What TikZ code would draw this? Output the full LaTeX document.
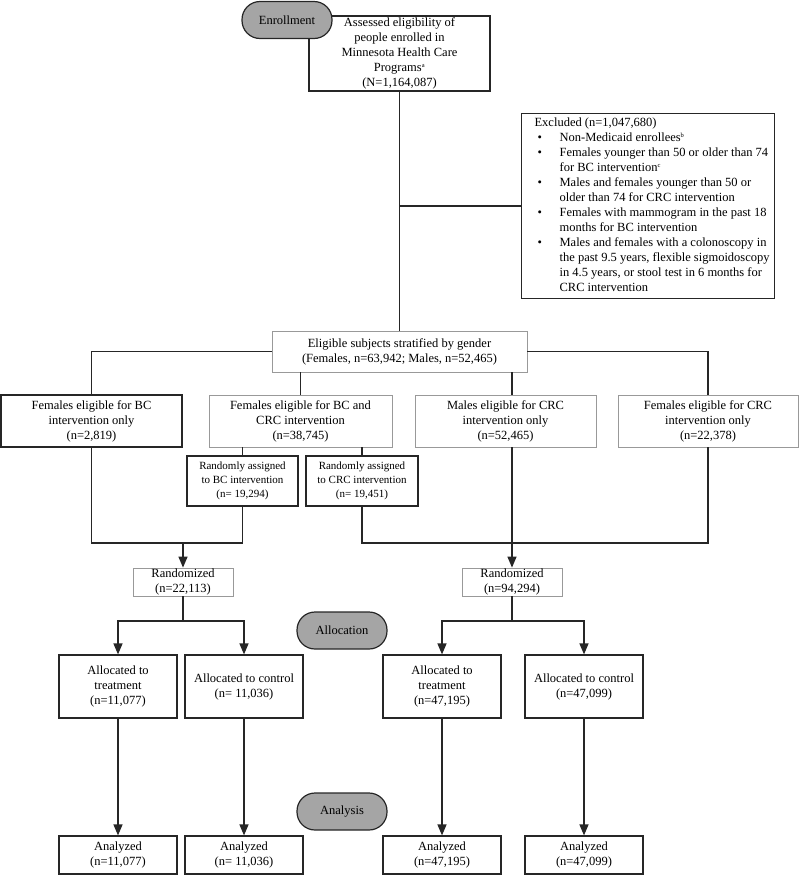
\documentclass[tikz,border=0pt]{standalone}
\usepackage{fontspec}
\setmainfont{Liberation Serif}
\usetikzlibrary{arrows.meta}
\definecolor{pillgray}{rgb}{0.647, 0.647, 0.647}
\definecolor{edgegray}{rgb}{0.6, 0.6, 0.6}
\definecolor{inkdark}{rgb}{0.15, 0.15, 0.15}
\newcommand{\supnote}[1]{\textsuperscript{\fontsize{6.5}{6.5}\selectfont #1}}

\begin{document}
\begin{tikzpicture}[x=1pt, y=-1pt,
    font=\fontsize{12.5}{15}\selectfont,
    darkbox/.style={draw=inkdark, line width=1.2pt, align=center, inner sep=0pt},
    lightbox/.style={draw=edgegray, line width=0.8pt, align=center, inner sep=0pt},
    stage/.style={draw=inkdark, fill=pillgray, line width=1.2pt, rounded corners=18pt,
        minimum width=90pt, minimum height=37pt, inner sep=0pt},
    link/.style={draw=inkdark, line width=1.4pt},
    flow/.style={link, -{Triangle[length=11pt, width=9pt]}}]
        \useasboundingbox (0,0) rectangle (800,876);
        % enrollment
        \node[darkbox, minimum width=181pt, minimum height=75pt] (2) at (399.5,53.5)
            {Assessed eligibility of\\people enrolled in\\Minnesota Health Care\\Programs\supnote{a}\\(N=1,164,087)};
        \node[stage] (1) at (287,20) {Enrollment};
        \node[darkbox, anchor=north west, minimum height=185pt] (3) at (521,113) {%
            \begin{tabular}{@{\hspace{13pt}}p{25pt}@{}p{215pt}@{}}
            \multicolumn{2}{@{\hspace{13pt}}l@{}}{Excluded (n=1,047,680)}\\
            \hspace{3pt}\textbullet & Non-Medicaid enrollees\supnote{b}\\
            \hspace{3pt}\textbullet & Females younger than 50 or older than 74\newline for BC intervention\supnote{c}\\
            \hspace{3pt}\textbullet & Males and females younger than 50 or\newline older than 74 for CRC intervention\\
            \hspace{3pt}\textbullet & Females with mammogram in the past 18\newline months for BC intervention\\
            \hspace{3pt}\textbullet & Males and females with a colonoscopy in\newline the past 9.5 years, flexible sigmoidoscopy\newline in 4.5 years, or stool test in 6 months for\newline CRC intervention
            \end{tabular}};
        \node[lightbox, minimum width=255pt, minimum height=41pt] (4) at (399.5,351.5)
            {Eligible subjects stratified by gender\\(Females, n=63,942; Males, n=52,465)};
        % groups
        \node[darkbox, minimum width=181pt, minimum height=52pt] (5) at (91.5,421)
            {Females eligible for BC\\intervention only\\(n=2,819)};
        \node[lightbox, minimum width=183pt, minimum height=52pt] (6) at (300.5,421)
            {Females eligible for BC and\\CRC intervention\\(n=38,745)};
        \node[lightbox, minimum width=181pt, minimum height=52pt] (7) at (505.5,421)
            {Males eligible for CRC\\intervention only\\(n=52,465)};
        \node[lightbox, minimum width=180pt, minimum height=52pt] (8) at (708,421)
            {Females eligible for CRC\\intervention only\\(n=22,378)};
        \node[darkbox, font=\fontsize{11}{14}\selectfont, minimum width=111pt, minimum height=50pt] (9) at (242.5,481)
            {Randomly assigned\\to BC intervention\\(n= 19,294)};
        \node[darkbox, font=\fontsize{11}{14}\selectfont, minimum width=112pt, minimum height=50pt] (10) at (362,481)
            {Randomly assigned\\to CRC intervention\\(n= 19,451)};
        \node[lightbox, minimum width=100pt, minimum height=28pt] (11) at (183,582) {Randomized\\(n=22,113)};
        \node[lightbox, minimum width=100pt, minimum height=28pt] (12) at (512,582) {Randomized\\(n=94,294)};
        % allocation
        \node[stage] (13) at (342,630.5) {Allocation};
        \node[darkbox, minimum width=118pt, minimum height=63pt] (14) at (118,686.5) {Allocated to\\treatment\\(n=11,077)};
        \node[darkbox, minimum width=118pt, minimum height=63pt] (15) at (244,686.5) {Allocated to control\\(n= 11,036)};
        \node[darkbox, minimum width=118pt, minimum height=63pt] (16) at (442,686.5) {Allocated to\\treatment\\(n=47,195)};
        \node[darkbox, minimum width=118pt, minimum height=63pt] (17) at (584,686.5) {Allocated to control\\(n=47,099)};
        % analysis
        \node[stage] (18) at (342,811.5) {Analysis};
        \node[darkbox, minimum width=118pt, minimum height=38pt] (19) at (118,855) {Analyzed\\(n=11,077)};
        \node[darkbox, minimum width=118pt, minimum height=38pt] (20) at (244,855) {Analyzed\\(n= 11,036)};
        \node[darkbox, minimum width=118pt, minimum height=38pt] (21) at (442,855) {Analyzed\\(n=47,195)};
        \node[darkbox, minimum width=118pt, minimum height=38pt] (22) at (584,855) {Analyzed\\(n=47,099)};
        \coordinate (j1) at (183,543);
        \coordinate (j2) at (512,543);
        \coordinate (s1) at (183,621);
        \coordinate (s2) at (512,621);
        % connectors
        \draw[link] (2.south) -- (4.north);
        \draw[link] (3.west) -- (3.west -| 2.south);
        \draw[link] (4.west) -| (5.north);
        \draw[link] (4.east) -| (8.north);
        \draw[link] (4.south -| 6.north) -- (6.north);
        \draw[link] (4.south -| 12.north) -- (7.north -| 12.north);
        \draw[link] (6.south -| 9.north) -- (9.north);
        \draw[link] (6.south -| 10.north) -- (10.north);
        \draw[link] (5.south) |- (j1) -| (9.south);
        \draw[link] (10.south) |- (j2) -| (8.south);
        \draw[flow] (j1) -- (11.north);
        \draw[flow] (7.south -| 12.north) -- (12.north);
        \draw[link] (11.south) -- (s1);
        \draw[link] (12.south) -- (s2);
        \draw[flow] (s1) -| (14.north);
        \draw[flow] (s1) -| (15.north);
        \draw[flow] (s2) -| (16.north);
        \draw[flow] (s2) -| (17.north);
        \foreach \a/\b in {14/19, 15/20, 16/21, 17/22}
            \draw[flow] (\a.south) -- (\b.north);
\end{tikzpicture}
\end{document}
